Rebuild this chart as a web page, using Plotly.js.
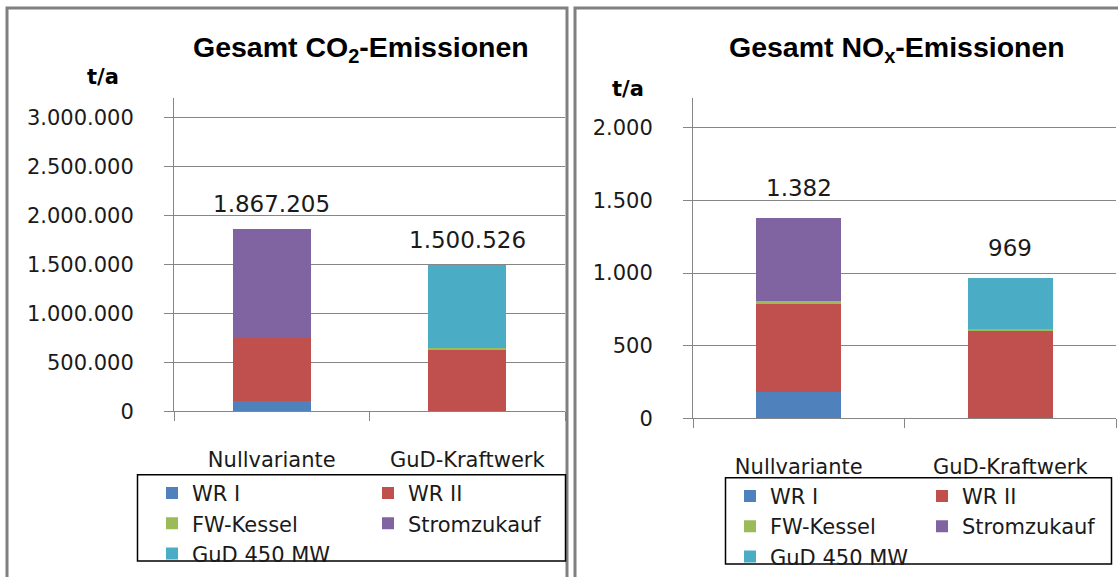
<!DOCTYPE html>
<html><head><meta charset="utf-8">
<script src="https://cdn.plot.ly/plotly-3.0.1.min.js"></script>
<style>html,body{margin:0;padding:0;background:#fff}#chart{width:1118px;height:577px}</style>
</head><body><div id="chart"></div>
<script>
// ---------- data ----------
const categories = ["Nullvariante", "GuD-Kraftwerk"];
const seriesNames = ["WR I", "WR II", "FW-Kessel", "Stromzukauf", "GuD 450 MW"];

const co2WR1 = [105000, 0];
const co2WR2 = [647000, 632000];
const co2FW = [2000, 19000];
const co2Strom = [1113205, 0];
const co2GuD = [0, 849526];

const noxWR1 = [183, 0];
const noxWR2 = [604, 604];
const noxFW = [21, 14];
const noxStrom = [574, 0];
const noxGuD = [0, 351];

const co2TickVals = [0, 500000, 1000000, 1500000, 2000000, 2500000, 3000000];
const co2TickText = ["0", "500.000", "1.000.000", "1.500.000", "2.000.000", "2.500.000", "3.000.000"];
const noxTickVals = [0, 500, 1000, 1500, 2000];
const noxTickText = ["0", "500", "1.000", "1.500", "2.000"];

// ---------- style ----------
const W = 1118, H = 577;
const px = x => x / W;
const py = y => 1 - y / H;
const colors = ["#4F81BD", "#C0504D", "#9BBB59", "#8064A2", "#4BACC6"];
const gridC = "#868686";
const FONT = "DejaVu Sans";
const fmt = n => String(Math.round(n)).replace(/\B(?=(\d{3})+(?!\d))/g, ".");

const co2Series = [co2WR1, co2WR2, co2FW, co2Strom, co2GuD];
const noxSeries = [noxWR1, noxWR2, noxFW, noxStrom, noxGuD];
const colLegend = [0, 1, 0, 1, 0]; // which legend column

function makeTraces(series, xa, ya, legA, legB) {
  return series.map((vals, i) => ({
    type: "bar", x: categories, y: vals, name: seriesNames[i],
    xaxis: xa, yaxis: ya,
    marker: {color: colors[i], line: {width: 0}},
    legend: colLegend[i] === 0 ? legA : legB,
    hoverinfo: "x+y+name"
  }));
}
const traces = [
  ...makeTraces(co2Series, "x", "y", "legend", "legend2"),
  ...makeTraces(noxSeries, "x2", "y2", "legend3", "legend4")
];

const totals = (series) => categories.map((c, j) => series.reduce((s, a) => s + a[j], 0));
const co2Tot = totals(co2Series);
const noxTot = totals(noxSeries);

const tickFont = {family: FONT, size: 21, color: "#1a1a1a"};
function yAxis(dom, range, vals, text) {
  return {domain: dom, range: range, tickmode: "array", tickvals: vals, ticktext: text,
    showline: true, linecolor: gridC, linewidth: 1, ticks: "outside", ticklen: 9, tickcolor: gridC,
    showgrid: true, gridcolor: gridC, gridwidth: 1, zeroline: false,
    tickfont: tickFont, ticklabelstandoff: 26, fixedrange: true};
}
function xAxis(dom, anchor) {
  return {domain: dom, anchor: anchor, type: "category", showline: true, linecolor: gridC, linewidth: 1,
    ticks: "outside", ticklen: 9, tickcolor: gridC, tickson: "boundaries",
    showgrid: false, zeroline: false, tickfont: tickFont, ticklabelstandoff: 29, fixedrange: true};
}

const legFont = {family: FONT, size: 21, color: "#1a1a1a"};
function leg(x, y) {
  return {x: px(x), y: py(y), xanchor: "left", yanchor: "top", orientation: "v",
    bgcolor: "rgba(0,0,0,0)", borderwidth: 0, font: legFont, traceorder: "normal", tracegroupgap: 0};
}

const annotations = [
  {xref: "paper", yref: "paper", x: px(361), y: py(49), xanchor: "center", yanchor: "middle", showarrow: false,
   text: "Gesamt CO<sub>2</sub>-Emissionen", font: {family: "Liberation Sans", size: 28.5, color: "#000", weight: "bold"}},
  {xref: "paper", yref: "paper", x: px(897), y: py(49), xanchor: "center", yanchor: "middle", showarrow: false,
   text: "Gesamt NO<sub>x</sub>-Emissionen", font: {family: "Liberation Sans", size: 28.5, color: "#000", weight: "bold"}},
  {xref: "paper", yref: "paper", x: px(103), y: py(78), xanchor: "center", yanchor: "middle", showarrow: false,
   text: "t/a", font: {family: FONT, size: 21, color: "#000", weight: "bold"}},
  {xref: "paper", yref: "paper", x: px(628), y: py(90), xanchor: "center", yanchor: "middle", showarrow: false,
   text: "t/a", font: {family: FONT, size: 21, color: "#000", weight: "bold"}},
];
categories.forEach((c, j) => {
  annotations.push({xref: "x", yref: "y", x: c, y: co2Tot[j], yanchor: "bottom", yshift: 10, showarrow: false,
    text: fmt(co2Tot[j]), font: {family: FONT, size: 23, color: "#1a1a1a"}});
  annotations.push({xref: "x2", yref: "y2", x: c, y: noxTot[j], yanchor: "bottom", yshift: 15, showarrow: false,
    text: fmt(noxTot[j]), font: {family: FONT, size: 23, color: "#1a1a1a"}});
});

const borderC = "#808080";
const shapes = [
  {type: "rect", xref: "paper", yref: "paper", x0: px(7), x1: px(567), y0: py(8), y1: py(600), line: {color: borderC, width: 3}},
  {type: "rect", xref: "paper", yref: "paper", x0: px(575), x1: px(1130), y0: py(8), y1: py(600), line: {color: borderC, width: 3}},
  {type: "rect", xref: "paper", yref: "paper", x0: px(137.5), x1: px(565.5), y0: py(479), y1: py(566), line: {color: "#000", width: 1.5}},
  {type: "rect", xref: "paper", yref: "paper", x0: px(725.5), x1: px(1111.5), y0: py(482), y1: py(569), line: {color: "#000", width: 1.5}},
];

const layout = {
  width: W, height: H, autosize: false,
  margin: {l: 0, r: 0, t: 0, b: 0, pad: 0},
  paper_bgcolor: "#fff", plot_bgcolor: "rgba(0,0,0,0)",
  barmode: "stack", bargap: 0.6,
  showlegend: true,
  xaxis: xAxis([px(174), px(565)], "y"),
  yaxis: yAxis([py(415), py(99)], [0, 3202700], co2TickVals, co2TickText),
  xaxis2: xAxis([px(693), px(1116)], "y2"),
  yaxis2: Object.assign(yAxis([py(422), py(99)], [0, 2204.8], noxTickVals, noxTickText), {anchor: "x2"}),
  legend: leg(152, 477),
  legend2: leg(368, 477),
  legend3: leg(730, 480),
  legend4: leg(922, 480),
  annotations: annotations,
  shapes: shapes
};
layout.xaxis.anchor = "y";
layout.yaxis.anchor = "x";

Plotly.newPlot("chart", traces, layout, {displayModeBar: false, staticPlot: true});
</script>
</body></html>
